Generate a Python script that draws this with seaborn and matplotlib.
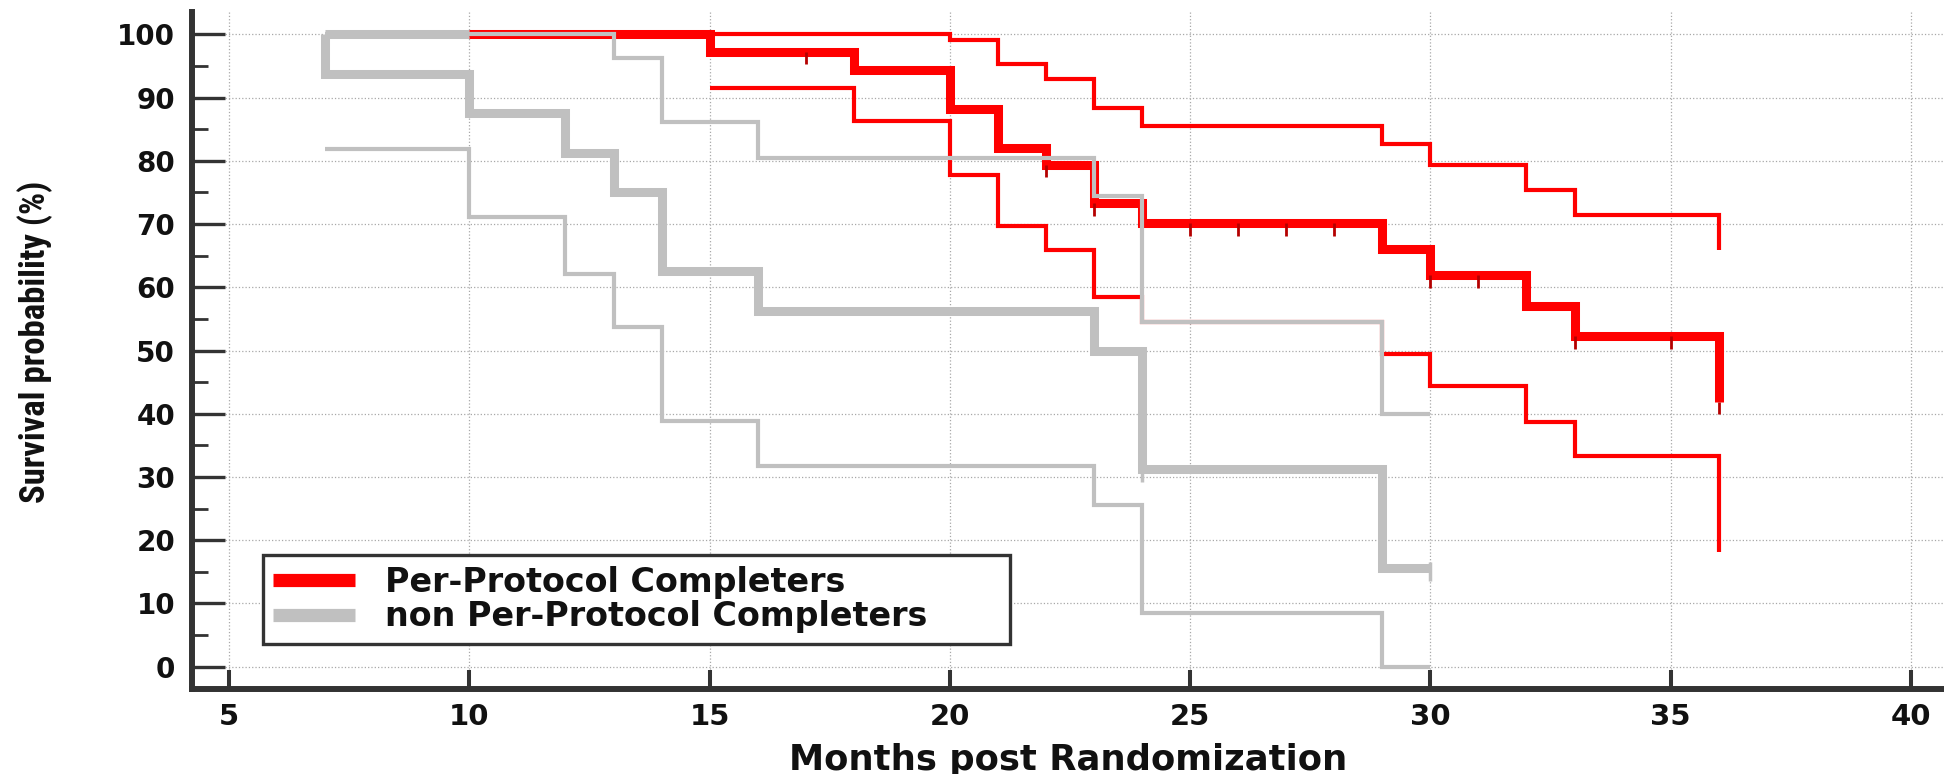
import numpy as np
import matplotlib
matplotlib.use("Agg")
import matplotlib.pyplot as plt
import seaborn as sns
from matplotlib.lines import Line2D
from matplotlib import font_manager

# Per-Protocol Completers (red): KM estimate and 95% CI, step times / levels
pp_km_t = [10, 15, 18, 20, 21, 22, 23, 24, 29, 30, 32, 33, 36]
pp_km_s = [100, 97.3, 94.3, 88.2, 82.1, 79.4, 73.3, 70.1, 66.0, 61.9, 57.1, 52.3, 41.9]
pp_hi_t = [10, 20, 21, 22, 23, 24, 29, 30, 32, 33, 36]
pp_hi_s = [100, 99.2, 95.4, 92.9, 88.3, 85.5, 82.6, 79.4, 75.4, 71.4, 65.9]
pp_lo_t = [15, 18, 20, 21, 22, 23, 24, 29, 30, 32, 33, 36]
pp_lo_s = [91.6, 86.3, 77.7, 69.7, 65.9, 58.5, 54.5, 49.4, 44.4, 38.7, 33.3, 18.1]
pp_end = 36
pp_censored = [17, 22, 23, 25, 26, 27, 28, 30, 31, 33, 35, 36]

# non Per-Protocol Completers (gray)
np_km_t = [7, 7, 10, 12, 13, 14, 16, 23, 24, 29]
np_km_s = [100, 93.75, 87.5, 81.25, 75.0, 62.5, 56.25, 50.0, 31.25, 15.6]
np_hi_t = [7, 13, 14, 16, 23, 24, 29]
np_hi_s = [100, 96.2, 86.1, 80.5, 74.4, 54.5, 40.0]
np_lo_t = [7, 10, 12, 13, 14, 16, 23, 24, 29]
np_lo_s = [81.9, 71.1, 62.1, 53.7, 38.9, 31.8, 25.5, 8.5, 0.0]
np_end = 30
np_top_span = [7, 10]   # thick gray piece at 100 before the first step
np_censored = [24, 30]

labels = ["Per-Protocol Completers", "non Per-Protocol Completers"]
x_ticks = [5, 10, 15, 20, 25, 30, 35, 40]
y_ticks = list(range(0, 101, 10))

RED = "#ff0000"
GRAY = "#c0c0c0"
DARK = "#333333"
TICK_RED = "#b40000"


def step_xy(t, s, t_end):
    xs, ys = [t[0]], [s[0]]
    for ti, si in zip(t[1:], s[1:]):
        xs += [ti, ti]
        ys += [ys[-1], si]
    xs.append(t_end)
    ys.append(ys[-1])
    return xs, ys


def level_at(t, s, time):
    lev = s[0]
    for ti, si in zip(t, s):
        if ti <= time:
            lev = si
    return lev


def draw_curve(ax, t, s, t_end, color, lw, z):
    xs, ys = step_xy(t, s, t_end)
    sns.lineplot(x=xs, y=ys, sort=False, estimator=None, color=color,
                 linewidth=lw, ax=ax, zorder=z,
                 solid_joinstyle="miter", solid_capstyle="butt")


sns.set_theme(style="white")
plt.rcParams["font.family"] = ["DejaVu Sans"]
plt.rcParams["font.weight"] = "bold"

fig = plt.figure(figsize=(19.44, 7.74), dpi=100)
ax = fig.add_axes([0.0986, 0.1094, 0.9014, 0.8755])

# red group first, gray CI lines end up on top
draw_curve(ax, pp_km_t, pp_km_s, pp_end, RED, 6.5, 3)
draw_curve(ax, pp_hi_t, pp_hi_s, pp_end, RED, 3.0, 3)
draw_curve(ax, pp_lo_t, pp_lo_s, pp_end, RED, 3.0, 3)

sns.lineplot(x=np_top_span, y=[100, 100], color=GRAY, linewidth=6.5, ax=ax, zorder=2,
             solid_capstyle="butt")
draw_curve(ax, np_km_t, np_km_s, np_end, GRAY, 6.5, 2)
draw_curve(ax, np_hi_t, np_hi_s, np_end, GRAY, 3.0, 4)
draw_curve(ax, np_lo_t, np_lo_s, np_end, GRAY, 3.0, 4)

# censor marks
pp_lev = np.array([level_at(pp_km_t, pp_km_s, c) for c in pp_censored])
ax.vlines(pp_censored, pp_lev - 2.0, pp_lev, color=TICK_RED, linewidth=2.0, zorder=5)
np_lev = np.array([level_at(np_km_t, np_km_s, c) for c in np_censored])
ax.vlines(np_censored, np_lev - 2.0, np_lev + 1.0, color=GRAY, linewidth=2.5, zorder=5)

ax.set_xlim(4.22, 40.69)
ax.set_ylim(-3.6, 103.6)
ax.set_xticks(x_ticks)
ax.set_yticks(y_ticks)
ax.set_yticks(list(range(5, 100, 10)), minor=True)

ax.grid(True, which="major", linestyle=":", color="#a8a8a8", linewidth=0.9)
ax.set_axisbelow(True)

for side in ["top", "right"]:
    ax.spines[side].set_visible(False)
for side in ["left", "bottom"]:
    ax.spines[side].set_linewidth(4.3)
    ax.spines[side].set_color(DARK)

ax.tick_params(axis="y", which="major", direction="in", length=23.5, width=2.4,
               color=DARK, pad=12, labelsize=20, left=True)
ax.tick_params(axis="y", which="minor", direction="in", length=11.5, width=2.0,
               color=DARK, left=True)
ax.tick_params(axis="x", which="major", direction="in", length=14, width=2.9,
               color=DARK, pad=9.5, labelsize=21, bottom=True)
for lab in ax.get_xticklabels() + ax.get_yticklabels():
    lab.set_fontweight("bold")
    lab.set_color("#111111")

ax.set_xlabel("Months post Randomization", fontsize=25.5, fontweight="bold", color="#111111")
ax.xaxis.set_label_coords(0.5, -0.119)
ax.xaxis.label.set_verticalalignment("baseline")

# narrow, heavy y label as in the original
installed = {f.name for f in font_manager.fontManager.ttflist}
if "Roboto Condensed" in installed:
    ax.set_ylabel("Survival probability (%)", fontsize=25, fontweight="bold",
                  family="Roboto Condensed", color="#111111")
elif "Roboto" in installed:
    ax.set_ylabel("Survival probability (%)", fontsize=21, fontweight="bold",
                  family="Roboto", color="#111111")
else:
    ax.set_ylabel("Survival probability (%)", fontsize=18, fontweight="bold", color="#111111")
ax.yaxis.set_label_coords(-0.079, 0.513)

handles = [Line2D([0], [0], color=RED, linewidth=9.5, solid_capstyle="butt"),
           Line2D([0], [0], color=GRAY, linewidth=9.5, solid_capstyle="butt")]
leg = ax.legend(handles, labels, loc="upper left",
                bbox_to_anchor=(5.70, 3.7, 15.56, 13.9),
                bbox_transform=ax.transData, mode="expand", borderaxespad=0,
                prop={"weight": "bold", "size": 24},
                handlelength=2.45, handletextpad=0.9, labelspacing=0.04,
                borderpad=0.32, fancybox=False, framealpha=1.0)
leg.get_frame().set_edgecolor(DARK)
leg.get_frame().set_linewidth(2.4)
for txt in leg.get_texts():
    txt.set_color("#111111")

fig.savefig("out.png", dpi=100)
